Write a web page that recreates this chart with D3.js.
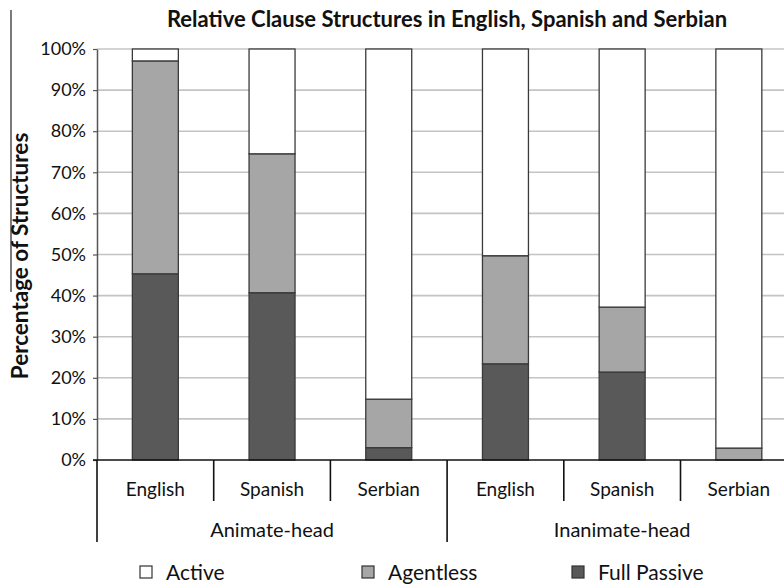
<!DOCTYPE html>
<html>
<head>
<meta charset="utf-8">
<script src="https://cdn.jsdelivr.net/npm/d3@7"></script>
<style>
  body { margin: 0; background: #fff; }
  svg { display: block; font-family: Lato, "Open Sans", sans-serif; }
</style>
</head>
<body>
<svg id="chart" width="784" height="586"></svg>
<script>
// values (percent of structures)
const groups = ["Animate-head", "Inanimate-head"];
const languages = ["English", "Spanish", "Serbian"];
const fullPassive = [45.3, 40.7, 3.0, 23.4, 21.4, 0];
const agentless = [51.8, 33.8, 11.8, 26.3, 15.8, 2.9];
const active = fullPassive.map((d, i) => 100 - d - agentless[i]);
const series = ["Active", "Agentless", "Full Passive"];
const yTicks = [0, 10, 20, 30, 40, 50, 60, 70, 80, 90, 100];

const svg = d3.select("#chart");
const margin = {top: 49, left: 97};
const plotBottom = 460;
const step = 116.7;

// one row per bar
var rows = [];
groups.forEach(function(g, gi){
    languages.forEach(function(l, li){
        var i = gi * languages.length + li;
        rows.push({key: g + "|" + l, group: g, lang: l,
                   "Full Passive": fullPassive[i], "Agentless": agentless[i], "Active": active[i]});
    });
});

const x = d3.scaleBand()
    .domain(rows.map(d => d.key))
    .range([margin.left, margin.left + step * rows.length])
    .paddingInner(0.606)
    .paddingOuter(0.303);

const y = d3.scaleLinear()
    .domain([0, 100])
    .range([plotBottom, margin.top]);

const color = d3.scaleOrdinal()
    .domain(series)
    .range(["#ffffff", "#a6a6a6", "#595959"]);

// gridlines
svg.append("g")
    .selectAll("line")
    .data(yTicks.filter(d => d > 0))
    .enter()
    .append("line")
        .attr("x1", margin.left)
        .attr("x2", 784)
        .attr("y1", d => y(d))
        .attr("y2", d => y(d))
        .attr("stroke", "#c4c4c4")
        .attr("stroke-width", 1.6);

// y axis
const yAxis = svg.append("g")
    .attr("transform", "translate(" + margin.left + ",0)")
    .call(d3.axisLeft(y).tickValues(yTicks).tickFormat(d => d + "%").tickSize(4).tickSizeOuter(0));
yAxis.select(".domain").attr("stroke", "#555").attr("stroke-width", 1.5);
yAxis.selectAll(".tick line").attr("stroke", "#555").attr("stroke-width", 1.2);
yAxis.selectAll(".tick text")
    .attr("x", -11)
    .attr("font-size", 18)
    .attr("font-family", "Lato, sans-serif")
    .attr("fill", "#111");

// stacked bars (Full Passive at bottom)
const stack = d3.stack().keys(["Full Passive", "Agentless", "Active"]);
const layers = stack(rows);

svg.append("g")
    .selectAll("g")
    .data(layers)
    .enter()
    .append("g")
        .attr("fill", d => color(d.key))
    .selectAll("rect")
    .data(d => d.filter(s => s[1] - s[0] > 0))
    .enter()
    .append("rect")
        .attr("x", d => x(d.data.key))
        .attr("width", x.bandwidth())
        .attr("y", d => y(d[1]))
        .attr("height", d => y(d[0]) - y(d[1]))
        .attr("stroke", "#3a3a3a")
        .attr("stroke-width", 1.3);

// x axis line
svg.append("line")
    .attr("x1", margin.left - 4)
    .attr("x2", 784)
    .attr("y1", plotBottom)
    .attr("y2", plotBottom)
    .attr("stroke", "#111")
    .attr("stroke-width", 1.6);

// category separators and labels
const sepData = d3.range(rows.length + 1).map(i => ({
    xpos: margin.left + i * step,
    long: i % languages.length === 0
}));
svg.append("g")
    .selectAll("line")
    .data(sepData)
    .enter()
    .append("line")
        .attr("x1", d => d.xpos)
        .attr("x2", d => d.xpos)
        .attr("y1", plotBottom)
        .attr("y2", d => d.long ? 542 : 501)
        .attr("stroke", "#111")
        .attr("stroke-width", 1.6);

svg.append("g")
    .selectAll("text")
    .data(rows)
    .enter()
    .append("text")
        .attr("x", d => x(d.key) + x.bandwidth() / 2)
        .attr("y", 496)
        .attr("text-anchor", "middle")
        .attr("font-size", 19)
        .attr("fill", "#111")
        .text(d => d.lang);

svg.append("g")
    .selectAll("text")
    .data(groups)
    .enter()
    .append("text")
        .attr("x", (d, i) => margin.left + step * languages.length * (i + 0.5))
        .attr("y", 537)
        .attr("text-anchor", "middle")
        .attr("font-size", 20)
        .attr("fill", "#111")
        .text(d => d);

// title
svg.append("text")
    .attr("x", 447)
    .attr("y", 27)
    .attr("text-anchor", "middle")
    .attr("font-size", 22)
    .attr("font-weight", "bold")
    .attr("fill", "#111")
    .text("Relative Clause Structures in English, Spanish and Serbian");

// y title
svg.append("text")
    .attr("transform", "translate(28,256) rotate(-90)")
    .attr("text-anchor", "middle")
    .attr("font-size", 22.5)
    .attr("font-weight", "bold")
    .attr("fill", "#111")
    .text("Percentage of Structures");

svg.append("line")
    .attr("x1", 11).attr("x2", 11)
    .attr("y1", 10).attr("y2", 292)
    .attr("stroke", "#222")
    .attr("stroke-width", 1.2);

// legend
const legendX = [140, 362, 572];
const legend = svg.append("g")
    .selectAll("g")
    .data(series)
    .enter()
    .append("g")
        .attr("transform", (d, i) => "translate(" + legendX[i] + ",566)");
legend.append("rect")
    .attr("width", 12)
    .attr("height", 12)
    .attr("fill", d => color(d))
    .attr("stroke", "#333")
    .attr("stroke-width", 1.2);
legend.append("text")
    .attr("x", 26)
    .attr("y", 14)
    .attr("font-size", 21)
    .attr("fill", "#111")
    .text(d => d);
</script>
</body>
</html>
